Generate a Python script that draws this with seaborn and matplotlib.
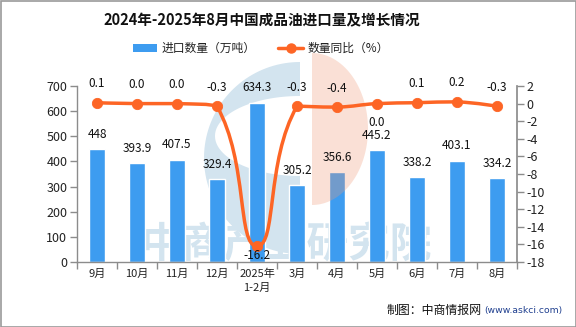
import numpy as np
import pandas as pd
import matplotlib
matplotlib.use("Agg")
import matplotlib.pyplot as plt
import seaborn as sns
from matplotlib.path import Path
from matplotlib.patches import PathPatch, Rectangle
from matplotlib.lines import Line2D
from matplotlib.transforms import IdentityTransform

categories = ["9月", "10月", "11月", "12月", "2025年\n1-2月", "3月", "4月", "5月", "6月", "7月", "8月"]
volume = [448, 393.9, 407.5, 329.4, 634.3, 305.2, 356.6, 445.2, 338.2, 403.1, 334.2]
volume_labels = ["448", "393.9", "407.5", "329.4", "634.3", "305.2", "356.6", "445.2", "338.2", "403.1", "334.2"]
yoy = [0.1, 0.0, 0.0, -0.3, -16.2, -0.3, -0.4, 0.0, 0.1, 0.2, -0.3]
yoy_labels = ["0.1", "0.0", "0.0", "-0.3", "-16.2", "-0.3", "-0.4", "0.0", "0.1", "0.2", "-0.3"]
left_ticks = [0, 100, 200, 300, 400, 500, 600, 700]
right_ticks = [2, 0, -2, -4, -6, -8, -10, -12, -14, -16, -18]

BAR = "#3d9cf0"
LINE = "#fd6525"
FONT = ["Noto Sans CJK SC", "DejaVu Sans"]

sns.set_theme(style="white")
plt.rcParams["font.family"] = FONT
plt.rcParams["axes.unicode_minus"] = False

W, H = 576, 327
fig = plt.figure(figsize=(W / 100, H / 100), dpi=100)
fig.patch.set_facecolor("white")

ax = fig.add_axes([77 / W, 1 - 262 / H, 440 / W, 176 / H])
ax.set_facecolor("none")

df = pd.DataFrame({"cat": categories, "vol": volume})
sns.barplot(data=df, x="cat", y="vol", color=BAR, saturation=1, width=0.4, ax=ax, zorder=2)
ax.set_xlim(-0.5, len(categories) - 0.5)
ax.set_ylim(0, 700)
ax.set_yticks(left_ticks)
ax.set_xlabel("")
ax.set_ylabel("")

gray = "#8c8c8c"
ax.spines["top"].set_visible(False)
ax.spines["right"].set_visible(False)
for s in ["left", "bottom"]:
    ax.spines[s].set_color(gray)
    ax.spines[s].set_linewidth(1)
ax.tick_params(axis="y", which="major", length=5, width=1, color=gray, direction="out",
               labelsize=9, labelcolor="#222222", pad=2, left=True)
ax.tick_params(axis="x", which="major", length=0, labelsize=8, labelcolor="#222222", pad=5)
ax.set_xticks(range(len(categories)))
ax.set_xticklabels(categories, linespacing=1.4)
ax.set_xticks(np.arange(-0.5, len(categories), 1.0), minor=True)
ax.tick_params(axis="x", which="minor", length=5, width=1, color=gray, direction="out", bottom=True)

for i, (v, lab) in enumerate(zip(volume, volume_labels)):
    ax.annotate(lab, (i, v), xytext=(0, 6), textcoords="offset points", ha="center", va="bottom",
                fontsize=8.5, color="#111111", zorder=5)

# ---- watermark (display pixel coordinates, top-left origin converted) ----
def dpts(xy):
    xy = np.asarray(xy, dtype=float)
    return np.column_stack([xy[:, 0], H - xy[:, 1]])

t = np.linspace(np.pi / 2, 3 * np.pi / 2, 80)
outer = dpts(np.column_stack([300 + 96 * np.cos(t), 158 - 96 * np.sin(t)]))
inner = dpts(np.column_stack([300 + 85 * np.cos(t), 136 - 40 * np.sin(t)]))[::-1]
cverts = np.vstack([outer, outer[:1], inner, inner[:1]])
ccodes = ([Path.MOVETO] + [Path.LINETO] * (len(outer) - 1) + [Path.CLOSEPOLY]
          + [Path.MOVETO] + [Path.LINETO] * (len(inner) - 1) + [Path.CLOSEPOLY])
cpatch = PathPatch(Path(cverts, ccodes), facecolor="#d3e4ef", edgecolor="none", zorder=1)
cpatch.set_transform(IdentityTransform())
cpatch.set_clip_on(False)
ax.add_artist(cpatch)

t2 = np.linspace(-np.pi / 2, np.pi / 2, 80)
half = dpts(np.column_stack([312 + 56 * np.cos(t2), 129 - 76 * np.sin(t2)]))
opatch = PathPatch(Path(np.vstack([half, half[:1]]),
                        [Path.MOVETO] + [Path.LINETO] * (len(half) - 1) + [Path.CLOSEPOLY]),
                   facecolor="#f09a78", alpha=0.3, edgecolor="none", zorder=2.5)
opatch.set_transform(IdentityTransform())
opatch.set_clip_on(False)
ax.add_artist(opatch)

ax.text(286 / W, 1 - 246 / H, "中商产业研究院", transform=fig.transFigure, ha="center", va="center",
        fontsize=30, fontweight="bold", color="#d3e4ef", zorder=1, clip_on=False)

# ---- right axis and growth line ----
ax2 = ax.twinx()
ax2.set_ylim(-18, 2)
ax2.set_yticks(right_ticks)
ax2.set_xlim(-0.5, len(categories) - 0.5)
for s in ["top", "left", "bottom"]:
    ax2.spines[s].set_visible(False)
ax2.spines["right"].set_color(gray)
ax2.tick_params(axis="y", length=5, width=1, color=gray, direction="out", labelsize=9,
                labelcolor="#222222", pad=2, right=True)
ax2.grid(False)
ax.grid(False)

fig.canvas.draw()
xs = np.arange(len(yoy), dtype=float)
pts = ax2.transData.transform(np.column_stack([xs, yoy]))
n = len(pts)
verts = [pts[0]]
codes = [Path.MOVETO]
smooth = 0.5
def tangent(i):
    if i == 0 or i == n - 1:
        return np.zeros(2), 0.5, 0.5
    prev, cur, nxt = pts[i - 1], pts[i], pts[i + 1]
    v = (nxt - prev) * smooth
    d0 = np.linalg.norm(cur - prev)
    d1 = np.linalg.norm(nxt - cur)
    return v, d0 / (d0 + d1), d1 / (d0 + d1)
for i in range(n - 1):
    p0, p1 = pts[i], pts[i + 1]
    v0, _, r1 = tangent(i)
    v1, r0, _ = tangent(i + 1)
    c1 = p0 + v0 * r1
    c2 = p1 - v1 * r0
    lo, hi = min(p0[1], p1[1]), max(p0[1], p1[1])
    c1[1] = np.clip(c1[1], lo, hi)
    c2[1] = np.clip(c2[1], lo, hi)
    c1[0] = np.clip(c1[0], p0[0], p1[0])
    c2[0] = np.clip(c2[0], p0[0], p1[0])
    verts += [c1, c2, p1]
    codes += [Path.CURVE4] * 3
verts = ax2.transData.inverted().transform(np.array(verts))
ax2.add_patch(PathPatch(Path(verts, codes), facecolor="none", edgecolor=LINE, lw=2.5,
                        capstyle="round", joinstyle="round", zorder=3))
ldf = pd.DataFrame({"x": xs, "y": yoy})
sns.scatterplot(data=ldf, x="x", y="y", color=LINE, s=55, edgecolor=LINE, ax=ax2, zorder=4, legend=False)
ax2.set_xlabel("")
ax2.set_ylabel("")

for i, (v, lab) in enumerate(zip(yoy, yoy_labels)):
    if i == 4:
        off, va = (0, -2), "top"
    elif i == 7:
        off, va = (0, -9), "top"
    else:
        off, va = (0, 9), "bottom"
    ax2.annotate(lab, (i, v), xytext=off, textcoords="offset points", ha="center", va=va,
                 fontsize=8.5, color="#111111", zorder=5)

# title
fig.text(262 / W, 1 - 20 / H, "2024年-2025年8月中国成品油进口量及增长情况", ha="center", va="center",
         fontsize=10.5, fontweight="bold", color="#111111")

# legend
fig.patches.append(Rectangle((133, H - 52), 24, 8, transform=IdentityTransform(), facecolor=BAR, edgecolor="none"))
fig.text(162 / W, 1 - 48 / H, "进口数量（万吨）", ha="left", va="center", fontsize=8.5, color="#222222")
fig.lines.append(Line2D([278, 303], [H - 48, H - 48], transform=IdentityTransform(), color=LINE, lw=2.5))
fig.lines.append(Line2D([290.5], [H - 48], transform=IdentityTransform(), color=LINE, marker="o", markersize=6.5))
fig.text(308 / W, 1 - 48 / H, "数量同比（%）", ha="left", va="center", fontsize=8.5, color="#222222")

# source
fig.text(387 / W, 1 - 310 / H, "制图：中商情报网", ha="left", va="center", fontsize=8.6, color="#111111")
fig.text(484 / W, 1 - 310 / H, "(www.askci.com)", ha="left", va="center", fontsize=6.7,
         color="#1f3f8f", family=["DejaVu Sans"])

fig.patches.append(Rectangle((0.5, 0.5), W - 1, H - 1, transform=IdentityTransform(), facecolor="none",
                             edgecolor="#9a9a9a", lw=1.2, zorder=20))

fig.savefig("out.png", dpi=100)
